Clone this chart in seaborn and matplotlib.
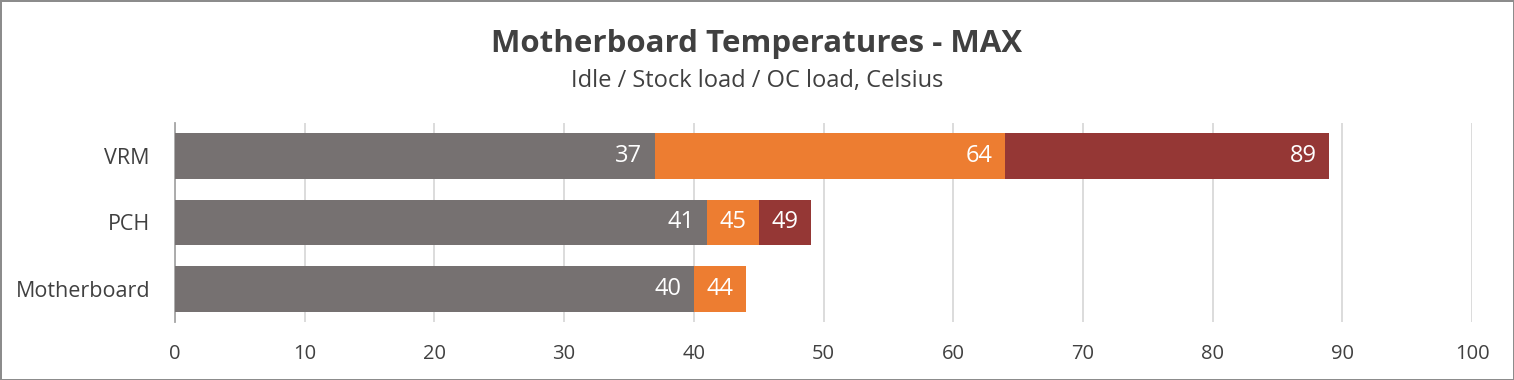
import matplotlib
matplotlib.use("Agg")
import matplotlib.pyplot as plt
import seaborn as sns
import pandas as pd
import numpy as np

categories = ["VRM", "PCH", "Motherboard"]
idle = [37, 41, 40]
stock = [64, 45, 44]
oc = [89, 49, np.nan]
series_names = ["Idle", "Stock load", "OC load"]
colors = {"Idle": "#767171", "Stock load": "#ED7D31", "OC load": "#953735"}

sns.set_theme(style="white")
plt.rcParams['font.family'] = ['Open Sans', 'DejaVu Sans']

fig = plt.figure(figsize=(15.14, 3.80), dpi=100)
fig.patch.set_facecolor("white")
fig.patch.set_edgecolor("#8C8C8C")
fig.patch.set_linewidth(2)
ax = fig.add_axes([175/1514, 58/380, 1297/1514, 199/380])

data = {"OC load": oc, "Stock load": stock, "Idle": idle}
for name in ["OC load", "Stock load", "Idle"]:
    df = pd.DataFrame({"cat": categories, "val": data[name]})
    sns.barplot(data=df, y="cat", x="val", order=categories, orient="h",
                color=colors[name], saturation=1, width=0.69, ax=ax, zorder=3,
                linewidth=0, edgecolor="none")

for name in ["Idle", "Stock load", "OC load"]:
    for i, v in enumerate(data[name]):
        if not np.isnan(v):
            ax.annotate(f"{v:g}", xy=(v, i), xytext=(-9, 0), textcoords="offset points",
                        ha="right", va="center", color="white", fontsize=17, zorder=5)

ax.set_xlim(0, 100)
ax.set_ylim(2.5, -0.5)
ax.set_xticks(range(0, 101, 10))
ax.xaxis.grid(True, color="#D9D9D9", linewidth=1.3, zorder=0)
ax.set_axisbelow(True)
for s in ["top", "right", "bottom"]:
    ax.spines[s].set_visible(False)
ax.spines["left"].set_color("#A6A6A6")
ax.spines["left"].set_linewidth(1.3)
ax.tick_params(axis="x", length=0, pad=16, labelsize=14.5, labelcolor="#404040")
ax.tick_params(axis="y", length=0, pad=18, labelsize=15.5, labelcolor="#404040")
ax.set_xlabel("")
ax.set_ylabel("")

fig.text(0.5, 1 - 44/380, "Motherboard Temperatures - MAX", ha="center", va="center",
         fontsize=22.5, fontweight="bold", color="#404040")
fig.text(0.5, 1 - 81/380, "Idle / Stock load / OC load, Celsius", ha="center", va="center",
         fontsize=17, color="#404040")

fig.savefig("out.png", dpi=100, facecolor=fig.get_facecolor(), edgecolor=fig.get_edgecolor())
